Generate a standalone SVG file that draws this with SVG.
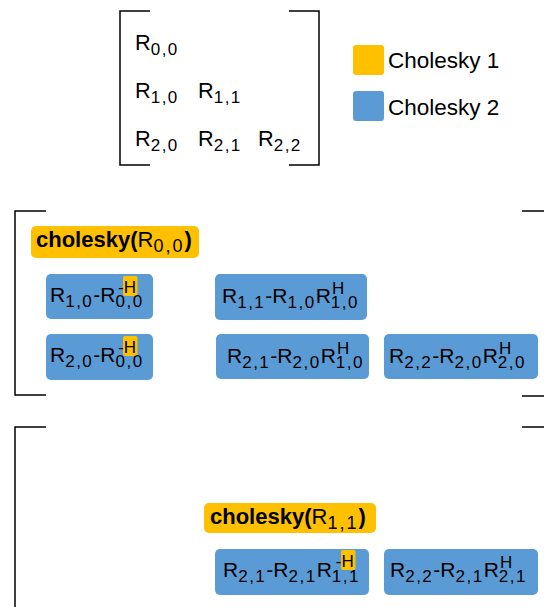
<svg xmlns="http://www.w3.org/2000/svg" width="544" height="607" viewBox="0 0 544 607">
  <style>
    text { font-family: "Liberation Sans", Arial, sans-serif; fill: #000; }
    .m { font-size: 21px; }
    .mx { font-size: 21.7px; }
    .c { font-size: 22px; }
    .b { font-weight: bold; }
    .sb { font-size: 17px; letter-spacing: 1.5px; }
    .sbc { font-size: 18px; letter-spacing: 2px; }
    .sp { font-size: 17px; }
    .lg { font-size: 22.5px; }
    .y { fill: #FFC000; }
    .bl { fill: #5B9BD5; }
    .br { fill: none; stroke: #000; stroke-width: 1.5; }
  </style>

  <!-- bracket outlines -->
  <g id="brackets">
    <path class="br" d="M150 11 H120 V165 H150"/>
    <path class="br" d="M289 11 H319 V165 H289"/>
    <path class="br" d="M46 211 H15 V395 H46"/>
    <path class="br" d="M522 211 H545.5 V396 H522"/>
    <path class="br" d="M46 427 H15 V610"/>
    <path class="br" d="M522 427 H545.5 V610"/>
  </g>

  <!-- lower-triangular matrix -->
  <g id="matrix">
    <text class="mx" x="135" y="50">R<tspan class="sb" dy="5">0,0</tspan></text>
    <text class="mx" x="135" y="98">R<tspan class="sb" dy="5">1,0</tspan></text>
    <text class="mx" x="198" y="98">R<tspan class="sb" dy="5">1,1</tspan></text>
    <text class="mx" x="135" y="146">R<tspan class="sb" dy="5">2,0</tspan></text>
    <text class="mx" x="198" y="146">R<tspan class="sb" dy="5">2,1</tspan></text>
    <text class="mx" x="258" y="146">R<tspan class="sb" dy="5">2,2</tspan></text>
  </g>

  <!-- legend -->
  <g id="legend-1">
    <rect class="y" x="353" y="45" width="31" height="30" rx="3"/>
    <text class="lg" x="388" y="68">Cholesky 1</text>
  </g>
  <g id="legend-2">
    <rect class="bl" x="353" y="91" width="31" height="30" rx="3"/>
    <text class="lg" x="388" y="115">Cholesky 2</text>
  </g>

  <!-- step 1 -->
  <g id="chol-00">
    <rect class="y" x="31" y="226" width="168" height="32" rx="5"/>
    <text class="c" x="36" y="247"><tspan class="b">cholesky(</tspan>R<tspan class="sbc" dy="5">0,0</tspan><tspan class="b" dy="-5">)</tspan></text>
  </g>
  <g id="upd-10">
    <rect class="bl" x="46" y="274" width="107" height="45" rx="5"/>
    <rect class="y" x="123" y="276" width="14.5" height="20" rx="2"/>
    <text class="m" x="50" y="302">R<tspan class="sb" dy="5">1,0</tspan><tspan dy="-5">-R</tspan><tspan class="sb" dy="5">0,0</tspan><tspan class="sp" dx="-25.6" dy="-14">-H</tspan></text>
  </g>
  <g id="upd-11">
    <rect class="bl" x="215" y="274" width="152" height="46" rx="5"/>
    <text class="m" x="222" y="303">R<tspan class="sb" dy="5">1,1</tspan><tspan dy="-5">-R</tspan><tspan class="sb" dy="5">1,0</tspan><tspan dy="-5">R</tspan><tspan class="sb" dy="5">1,0</tspan><tspan class="sp" dx="-27" dy="-14">H</tspan></text>
  </g>
  <g id="upd-20">
    <rect class="bl" x="46" y="334" width="107" height="46" rx="5"/>
    <rect class="y" x="123" y="336" width="14.5" height="20" rx="2"/>
    <text class="m" x="50" y="362">R<tspan class="sb" dy="5">2,0</tspan><tspan dy="-5">-R</tspan><tspan class="sb" dy="5">0,0</tspan><tspan class="sp" dx="-25.6" dy="-14">-H</tspan></text>
  </g>
  <g id="upd-21a">
    <rect class="bl" x="216" y="334" width="153" height="45" rx="5"/>
    <text class="m" x="227" y="363">R<tspan class="sb" dy="5">2,1</tspan><tspan dy="-5">-R</tspan><tspan class="sb" dy="5">2,0</tspan><tspan dy="-5">R</tspan><tspan class="sb" dy="5">1,0</tspan><tspan class="sp" dx="-27" dy="-14">H</tspan></text>
  </g>
  <g id="upd-22a">
    <rect class="bl" x="384" y="334" width="154" height="45" rx="5"/>
    <text class="m" x="389" y="363">R<tspan class="sb" dy="5">2,2</tspan><tspan dy="-5">-R</tspan><tspan class="sb" dy="5">2,0</tspan><tspan dy="-5">R</tspan><tspan class="sb" dy="5">2,0</tspan><tspan class="sp" dx="-27" dy="-14">H</tspan></text>
  </g>

  <!-- step 2 -->
  <g id="chol-11">
    <rect class="y" x="204" y="503" width="172" height="30" rx="5"/>
    <text class="c" x="210" y="524"><tspan class="b">cholesky(</tspan>R<tspan class="sbc" dy="5">1,1</tspan><tspan class="b" dy="-5">)</tspan></text>
  </g>
  <g id="upd-21b">
    <rect class="bl" x="215" y="549" width="154" height="46" rx="5"/>
    <rect class="y" x="341" y="550" width="14.5" height="20" rx="2"/>
    <text class="m" x="223" y="577">R<tspan class="sb" dy="5">2,1</tspan><tspan dy="-5">-R</tspan><tspan class="sb" dy="5">2,1</tspan><tspan dy="-5">R</tspan><tspan class="sb" dy="5">1,1</tspan><tspan class="sp" dx="-24.2" dy="-15">-H</tspan></text>
  </g>
  <g id="upd-22b">
    <rect class="bl" x="384" y="549" width="154" height="46" rx="5"/>
    <text class="m" x="390" y="577">R<tspan class="sb" dy="5">2,2</tspan><tspan dy="-5">-R</tspan><tspan class="sb" dy="5">2,1</tspan><tspan dy="-5">R</tspan><tspan class="sb" dy="5">2,1</tspan><tspan class="sp" dx="-27" dy="-14">H</tspan></text>
  </g>
</svg>
